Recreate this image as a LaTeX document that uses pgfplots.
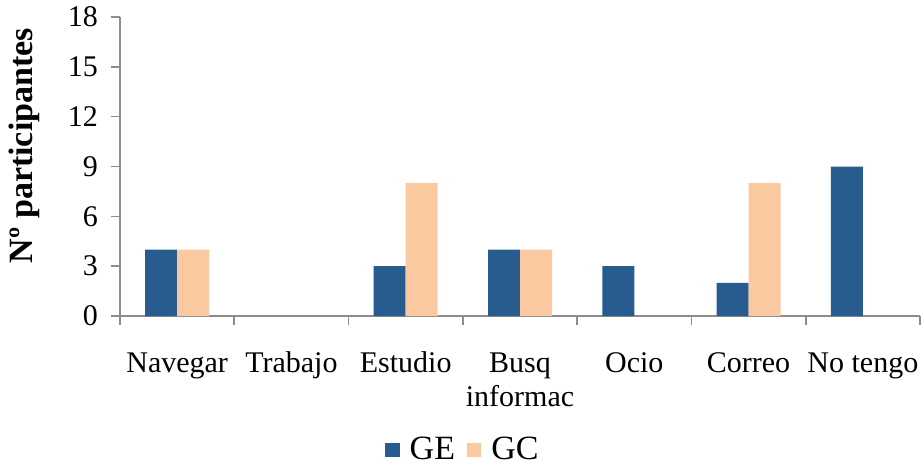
\documentclass[border=0pt]{standalone}
\usepackage{fontspec}
\setmainfont{Liberation Serif}
\usepackage{pgfplots}
\pgfplotsset{compat=1.18}

\definecolor{ge}{HTML}{285C8F}
\definecolor{gc}{HTML}{FAC9A0}
\definecolor{axgray}{HTML}{8C8C8C}

\begin{document}
\begin{tikzpicture}
\begin{axis}[
    name=ax,
    scale only axis,
    width=400pt, height=149.5pt,
    ybar=0pt, bar width=16pt,
    xmin=-0.5, xmax=6.5,
    ymin=0, ymax=18,
    ytick={0,3,...,18},
    xtick={0,...,6},
    xticklabels={Navegar,Trabajo,Estudio,{\begin{tabular}[t]{@{}c@{}}Busq\\informac\end{tabular}},Ocio,Correo,No tengo},
    minor xtick={-0.5,0.5,...,6.5},
    axis x line*=bottom, axis y line*=left,
    axis line style={axgray, line width=0.8pt},
    tick align=outside,
    major tick length=4.5pt, minor tick length=4.5pt,
    x tick style={draw=none},
    minor x tick style={draw=axgray, line width=0.8pt},
    y tick style={axgray, line width=0.8pt},
    xticklabel style={font=\fontsize{15}{17}\selectfont, anchor=base, yshift=-23.5pt},
    yticklabel style={font=\fontsize{15}{15}\selectfont, xshift=-3pt},
    /pgf/number format/assume math mode=true,
    ylabel={\textbf{Nº participantes}},
    ylabel style={font=\fontsize{17}{17}\selectfont, at={(axis description cs:-0.12,0.57)}, anchor=center},
    legend style={draw=none, fill=none, at={(axis description cs:0.43,-0.448)}, anchor=center,
        legend columns=2, font=\fontsize{17}{17}\selectfont,
        /tikz/every odd column/.append style={column sep=3pt},
        /tikz/every even column/.append style={column sep=4pt}},
    legend image code/.code={\fill[#1] (0cm,-0.12cm) rectangle (0.25cm,0.13cm);},
]
\addplot[fill=ge, draw=none] coordinates {(0,4) (2,3) (3,4) (4,3) (5,2) (6,9)};
\addplot[fill=gc, draw=none] coordinates {(0,4) (2,8) (3,4) (5,8)};
\legend{GE,GC}
\end{axis}
\pgfresetboundingbox
\path ([shift={(-60pt,-75pt)}]ax.south west) rectangle ([shift={(1.5pt,8.5pt)}]ax.north east);
\end{tikzpicture}
\end{document}
